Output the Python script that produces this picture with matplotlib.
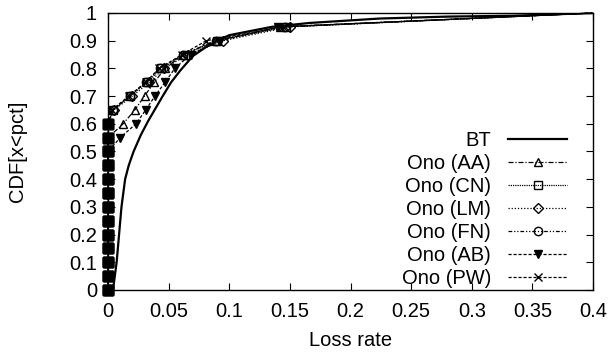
import numpy as np
import matplotlib
matplotlib.use('Agg')
from matplotlib import pyplot as plt

plt.rcParams['font.family'] = ['Liberation Sans', 'DejaVu Sans']

# CDF levels sampled every 0.05
levels = [0.0, 0.05, 0.1, 0.15, 0.2, 0.25, 0.3, 0.35, 0.4, 0.45,
          0.5, 0.55, 0.6, 0.65, 0.7, 0.75, 0.8, 0.85, 0.9, 0.95, 1.0]

bt_x = [0.004, 0.007, 0.009, 0.011, 0.014, 0.017, 0.021, 0.027, 0.033, 0.039, 0.045,
        0.052, 0.06, 0.07, 0.08, 0.09, 0.1, 0.135, 0.166, 0.224, 0.28, 0.334, 0.4]
bt_y = [0.0, 0.1, 0.2, 0.3, 0.4, 0.45, 0.5, 0.56, 0.61, 0.655, 0.7,
        0.75, 0.795, 0.845, 0.875, 0.9, 0.92, 0.95, 0.964, 0.98, 0.987, 0.99, 1.0]

ono_aa = [0]*12 + [0.0124, 0.022, 0.030, 0.038, 0.047, 0.062, 0.088, 0.142, 0.4]
ono_cn = [0]*13 + [0.004, 0.018, 0.032, 0.044, 0.063, 0.090, 0.147, 0.4]
ono_lm = [0]*13 + [0.005, 0.020, 0.034, 0.046, 0.066, 0.095, 0.150, 0.4]
ono_fn = [0]*13 + [0.004, 0.018, 0.031, 0.043, 0.062, 0.089, 0.146, 0.4]
ono_ab = [0]*11 + [0.010, 0.023, 0.031, 0.0386, 0.047, 0.055, 0.068, 0.092, 0.140, 0.4]
ono_pw = [0]*13 + [0.003, 0.017, 0.031, 0.042, 0.061, 0.081, 0.144, 0.4]

labels = ['BT', 'Ono (AA)', 'Ono (CN)', 'Ono (LM)', 'Ono (FN)', 'Ono (AB)', 'Ono (PW)']

styles = [
    ((0, (4, 1.5, 1, 1.5)), '^', 'none'),
    ((0, (1, 0.8)), 's', 'none'),
    ((0, (1, 1.5)), 'D', 'none'),
    ((0, (3, 1.5, 1, 1.5, 1, 1.5)), 'o', 'none'),
    ((0, (2.5, 1.5)), 'v', 'black'),
    ((0, (2.5, 1.5)), 'x', 'none'),
]

fs = 14.5

fig = plt.figure(figsize=(6.11, 3.58), dpi=100)
ax = fig.add_axes([0.177, 0.19, 0.7935, 0.7737])

ax.plot(bt_x, bt_y, color='black', linewidth=1.6, label=labels[0])

for xs, lab, (ls, mk, fc) in zip([ono_aa, ono_cn, ono_lm, ono_fn, ono_ab, ono_pw],
                                 labels[1:], styles):
    ys = levels[:len(xs) - 1] + [1.0]
    ms = 5 if mk == 'D' else 6
    ax.plot(xs, ys, color='black', linewidth=0.9, linestyle=ls, marker=mk,
            markersize=ms, markerfacecolor=fc, markeredgecolor='black',
            markeredgewidth=1.0, markevery=slice(0, len(xs) - 1),
            clip_on=False, label=lab)
    # zero-loss points pile up at x=0 into a solid stack
    zx = [x for x in xs if x == 0]
    ax.plot(zx, ys[:len(zx)], linestyle='none', marker='s', markersize=7,
            color='black', clip_on=False, zorder=3)

ax.set_xlim(0, 0.4)
ax.set_ylim(0, 1)
ax.set_xticks(np.arange(0, 0.401, 0.05))
ax.set_xticklabels(['0', '0.05', '0.1', '0.15', '0.2', '0.25', '0.3', '0.35', '0.4'])
ax.set_yticks(np.arange(0, 1.01, 0.1))
ax.set_yticklabels(['0', '0.1', '0.2', '0.3', '0.4', '0.5', '0.6', '0.7', '0.8', '0.9', '1'])
ax.tick_params(direction='in', top=True, right=True, length=5, width=0.8,
               labelsize=fs)
ax.tick_params(axis='x', pad=9)
ax.tick_params(axis='y', pad=8)
for s in ax.spines.values():
    s.set_linewidth(1.0)

ax.set_xlabel('Loss rate', fontsize=fs, labelpad=7)
ax.set_ylabel('CDF[x<pct]', fontsize=fs, labelpad=30)

ax.legend(loc='lower right', bbox_to_anchor=(0.975, -0.043), frameon=False,
          markerfirst=False, fontsize=fs, handlelength=2.9, handletextpad=0.85,
          labelspacing=0.2, borderpad=0.2)

fig.savefig('out.png', dpi=100)
